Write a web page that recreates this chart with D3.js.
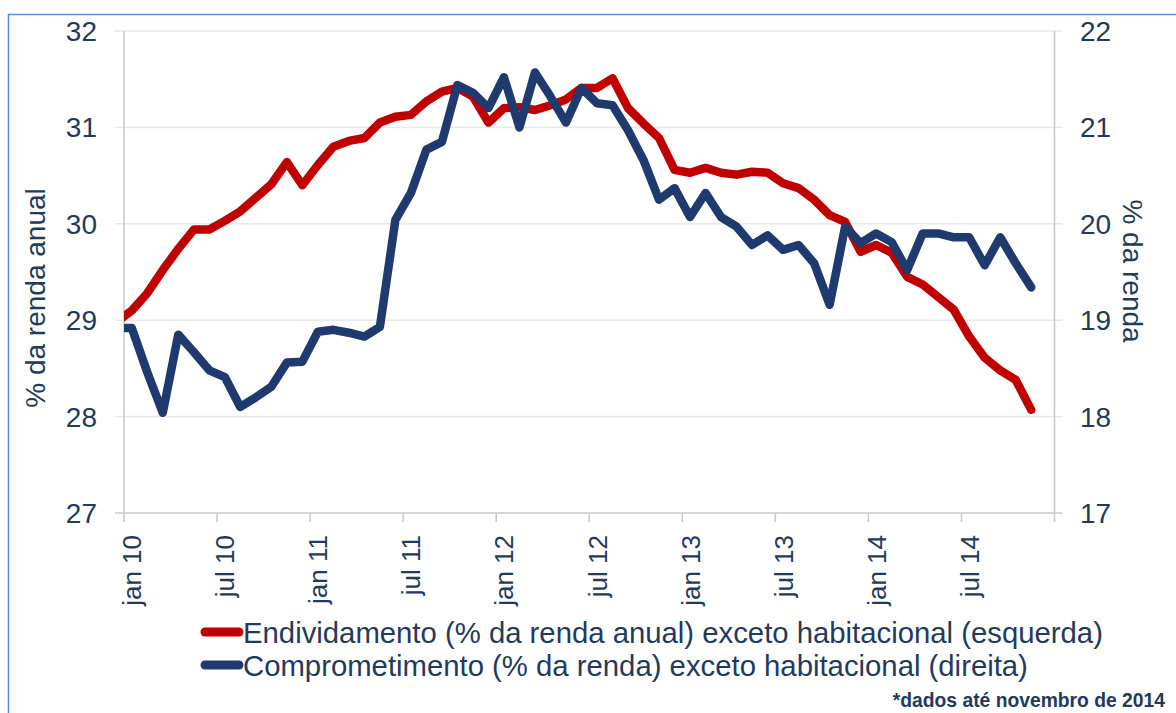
<!DOCTYPE html>
<html>
<head>
<meta charset="utf-8">
<script src="https://cdn.jsdelivr.net/npm/d3@7"></script>
<style>
  body { margin: 0; background: #fff; }
  svg { display: block; font-family: "Liberation Sans", Arial, sans-serif; }
</style>
</head>
<body>
<svg id="svg"></svg>
<script>
// meses (dez 09 fica fora da area e so da a entrada da linha)
const meses = [
  'dez 09',
  'jan 10','fev 10','mar 10','abr 10','mai 10','jun 10','jul 10','ago 10','set 10','out 10','nov 10','dez 10',
  'jan 11','fev 11','mar 11','abr 11','mai 11','jun 11','jul 11','ago 11','set 11','out 11','nov 11','dez 11',
  'jan 12','fev 12','mar 12','abr 12','mai 12','jun 12','jul 12','ago 12','set 12','out 12','nov 12','dez 12',
  'jan 13','fev 13','mar 13','abr 13','mai 13','jun 13','jul 13','ago 13','set 13','out 13','nov 13','dez 13',
  'jan 14','fev 14','mar 14','abr 14','mai 14','jun 14','jul 14','ago 14','set 14','out 14','nov 14'
];

// endividamento, % da renda anual (eixo esquerdo)
const endividamento = [
  28.98,
  29.10, 29.28, 29.52, 29.74, 29.94, 29.94, 30.03, 30.13, 30.27, 30.41, 30.64, 30.40,
  30.61, 30.80, 30.86, 30.89, 31.05, 31.11, 31.13, 31.27, 31.37, 31.41, 31.32, 31.05,
  31.20, 31.21, 31.18, 31.23, 31.29, 31.41, 31.41, 31.51, 31.20, 31.04, 30.89, 30.56,
  30.53, 30.58, 30.53, 30.51, 30.54, 30.53, 30.42, 30.37, 30.25, 30.09, 30.02, 29.71,
  29.78, 29.70, 29.45, 29.37, 29.24, 29.11, 28.83, 28.61, 28.48, 28.38, 28.07
];

// comprometimento, % da renda (eixo direito)
const comprometimento = [
  18.92,
  18.92, 18.46, 18.04, 18.85, 18.67, 18.48, 18.41, 18.10, 18.20, 18.31, 18.56, 18.57,
  18.88, 18.90, 18.87, 18.83, 18.93, 20.04, 20.32, 20.77, 20.85, 21.44, 21.36, 21.20,
  21.52, 21.00, 21.57, 21.32, 21.05, 21.41, 21.25, 21.23, 20.97, 20.66, 20.25, 20.37,
  20.07, 20.32, 20.07, 19.97, 19.78, 19.88, 19.73, 19.78, 19.59, 19.16, 19.97, 19.80,
  19.90, 19.81, 19.52, 19.90, 19.90, 19.86, 19.86, 19.57, 19.86, 19.59, 19.34
];

const ticksEsq = [27, 28, 29, 30, 31, 32];
const ticksDir = [17, 18, 19, 20, 21, 22];
const rotulosX = ['jan 10','jul 10','jan 11','jul 11','jan 12','jul 12','jan 13','jul 13','jan 14','jul 14'];

const legendas = [
  'Endividamento (% da renda anual) exceto habitacional (esquerda)',
  'Comprometimento (% da renda) exceto habitacional (direita)'
];
const nota = '*dados até novembro de 2014';

const W = 1176, H = 713;
const mLeft = 124, mRight = 1054.5, mTop = 31, mBottom = 513;
const vermelho = '#c00000', azul = '#1f3a6e', texto = '#243a5c';

const svg = d3.select('#svg').attr('width', W).attr('height', H);

// moldura azul
svg.append('path')
  .attr('d', `M8.5,${H} L8.5,14.5 L${W},14.5`)
  .attr('fill', 'none').attr('stroke', '#5b8fd3').attr('stroke-width', 1.5);

// posicao em meses a partir de jan 10
const x = d3.scaleLinear().domain([0, 60]).range([mLeft, mRight]);
const yE = d3.scaleLinear().domain([27, 32]).range([mBottom, mTop]);
const yD = d3.scaleLinear().domain([17, 22]).range([mBottom, mTop]);
const pos = i => x(i - 1 + 0.5);   // ponto no meio do mes

// grades
svg.append('g').selectAll('line').data(ticksEsq).enter().append('line')
  .attr('x1', mLeft - 9).attr('x2', mRight + 8)
  .attr('y1', d => yE(d)).attr('y2', d => yE(d))
  .attr('stroke', d => d === 27 ? '#c8c8c8' : '#e9e9e9').attr('stroke-width', 1.5);

// eixos verticais
[mLeft, mRight].forEach(px => {
  svg.append('line').attr('x1', px).attr('x2', px).attr('y1', mTop).attr('y2', mBottom)
    .attr('stroke', '#c8c8c8').attr('stroke-width', 1.5);
});

// ticks do eixo x
const mesesTick = d3.range(0, 61, 6);
svg.append('g').selectAll('line').data(mesesTick).enter().append('line')
  .attr('x1', d => x(d)).attr('x2', d => x(d))
  .attr('y1', mBottom).attr('y2', mBottom + 9)
  .attr('stroke', '#c8c8c8').attr('stroke-width', 1.5);

// rotulos eixo esquerdo
svg.append('g').selectAll('text').data(ticksEsq).enter().append('text')
  .attr('x', 97).attr('y', d => yE(d)).attr('dy', '0.36em')
  .attr('text-anchor', 'end').attr('font-size', 28).attr('fill', texto)
  .text(d => d);

// rotulos eixo direito
svg.append('g').selectAll('text').data(ticksDir).enter().append('text')
  .attr('x', 1080).attr('y', d => yD(d)).attr('dy', '0.36em')
  .attr('text-anchor', 'start').attr('font-size', 28).attr('fill', texto)
  .text(d => d);

// rotulos eixo x
svg.append('g').selectAll('text').data(rotulosX).enter().append('text')
  .attr('transform', d => `translate(${pos(meses.indexOf(d)) + 9.5},535) rotate(-90)`)
  .attr('text-anchor', 'end').attr('font-size', 26).attr('fill', texto)
  .text(d => d);

// titulos dos eixos
svg.append('text')
  .attr('transform', 'translate(45,298) rotate(-90)')
  .attr('text-anchor', 'middle').attr('font-size', 28).attr('fill', texto)
  .text('% da renda anual');
svg.append('text')
  .attr('transform', 'translate(1123,271) rotate(90)')
  .attr('text-anchor', 'middle').attr('font-size', 28).attr('fill', texto)
  .text('% da renda');

// linhas
svg.append('clipPath').attr('id', 'area')
  .append('rect').attr('x', mLeft).attr('y', 0).attr('width', mRight - mLeft).attr('height', H);

const linhaE = d3.line().x((d, i) => pos(i)).y(d => yE(d));
const linhaD = d3.line().x((d, i) => pos(i)).y(d => yD(d));

const plot = svg.append('g').attr('clip-path', 'url(#area)');
plot.append('path').attr('d', linhaE(endividamento))
  .attr('fill', 'none').attr('stroke', vermelho).attr('stroke-width', 8.5)
  .attr('stroke-linejoin', 'round').attr('stroke-linecap', 'round');
plot.append('path').attr('d', linhaD(comprometimento))
  .attr('fill', 'none').attr('stroke', azul).attr('stroke-width', 8.5)
  .attr('stroke-linejoin', 'round').attr('stroke-linecap', 'round');

// legenda
const leg = svg.append('g').selectAll('g').data(legendas).enter().append('g')
  .attr('transform', (d, i) => `translate(0,${632 + i * 33})`);
leg.append('line').attr('x1', 205).attr('x2', 239).attr('y1', 0).attr('y2', 0)
  .attr('stroke', (d, i) => i === 0 ? vermelho : azul)
  .attr('stroke-width', 9).attr('stroke-linecap', 'round');
leg.append('text').attr('x', 243).attr('y', 0).attr('dy', '0.36em')
  .attr('font-size', 29.3).attr('fill', texto)
  .text(d => d);

// nota
svg.append('text').attr('x', 1165).attr('y', 707)
  .attr('text-anchor', 'end').attr('font-size', 19.3).attr('font-weight', 'bold')
  .attr('fill', texto).text(nota);
</script>
</body>
</html>
